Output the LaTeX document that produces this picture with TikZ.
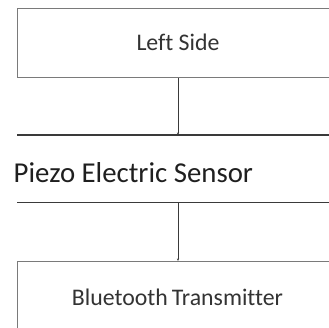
\documentclass[tikz,border=0pt]{standalone}
\usepackage{fontspec}
\setmainfont[Ligatures=NoCommon]{Carlito}
\usetikzlibrary{arrows.meta}
\definecolor{boxline}{HTML}{7A7A7A}
\definecolor{darkline}{HTML}{3A3A3A}
\definecolor{txt}{HTML}{333333}
\tikzset{
  boxtext/.style={font=\fontsize{23.8}{26}\selectfont, text=txt},
  bigtext/.style={font=\fontsize{28.8}{31}\selectfont, text=black!88},
  link/.style={draw=darkline, line width=0.9pt, -{Stealth[length=2.5pt,width=2pt]}},
}
\begin{document}
\begin{tikzpicture}[x=1pt,y=-1pt]
\useasboundingbox (0,0) rectangle (329,328);
\fill[white] (0,0) rectangle (329,328);
\clip (0,0) rectangle (329,328);
% top box
\node[draw=boxline, line width=1.1pt, minimum width=340pt, minimum height=69pt, anchor=north west, inner sep=0pt] (box1) at (17,8) {};
\node[boxtext] (t1) at (178,42.5) {Left Side};
% middle box (top and bottom edges only)
\node[minimum width=330pt, minimum height=67pt, anchor=north west, inner sep=0pt] (box2) at (17,135) {};
\draw[darkline, line width=1.1pt] (box2.north west) -- (box2.north east);
\draw[darkline, line width=1.1pt] (box2.south west) -- (box2.south east);
\node[bigtext, anchor=base west, inner sep=0pt] (t2) at (13.5,183) {Piezo Electric Sensor};
% bottom box
\node[draw=boxline, line width=1.1pt, minimum width=340pt, minimum height=90pt, anchor=north west, inner sep=0pt] (box3) at (17,261) {};
\node[boxtext] (t3) at (177.5,297.5) {Bluetooth\,Transmitter};
% connectors
\draw[link] (box1.south -| 178,0) -- (box2.north -| 178,0);
\draw[link] (box2.south -| 178,0) -- (box3.north -| 178,0);
\end{tikzpicture}
\end{document}
